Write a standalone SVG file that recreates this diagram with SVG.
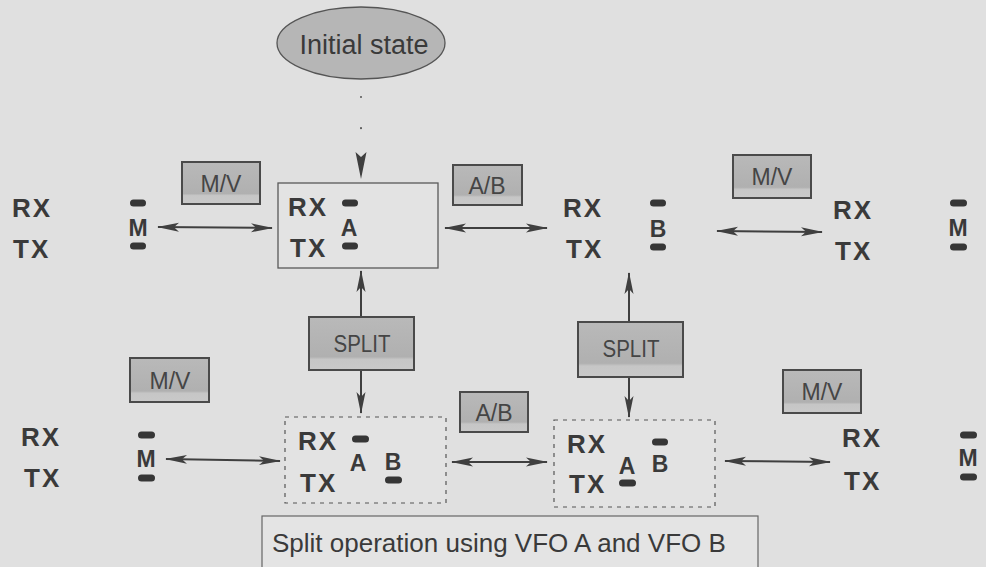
<svg xmlns="http://www.w3.org/2000/svg" width="986" height="567" viewBox="0 0 986 567">
<defs>
<linearGradient id="btn" x1="0" y1="0" x2="0" y2="1">
<stop offset="0" stop-color="#b9b9b9"/>
<stop offset="0.75" stop-color="#b0b0b0"/>
<stop offset="0.8" stop-color="#c6c6c6"/>
<stop offset="1" stop-color="#c9c9c9"/>
</linearGradient>
<marker id="ah" viewBox="0 0 22 10" refX="21" refY="5" markerWidth="22" markerHeight="10" markerUnits="userSpaceOnUse" orient="auto-start-reverse">
<path d="M0,0.5 L22,5 L0,9.5 L5,5 z" fill="#3f3f3f"/>
</marker>
</defs>
<style>
.bg{fill:#e0e0e0}
.lbl{font-family:"Liberation Sans",Arial,sans-serif;font-weight:bold;font-size:26px;letter-spacing:2px;fill:#3a3a3a}
.ltr{font-family:"Liberation Sans",Arial,sans-serif;font-weight:bold;font-size:23px;fill:#3a3a3a;text-anchor:middle}
.bar{fill:#363636}
.btn{fill:url(#btn);stroke:#4a4a4a;stroke-width:2}
.btxt{font-family:"Liberation Sans",Arial,sans-serif;font-size:23px;fill:#454545;text-anchor:middle}
.box{fill:#e3e3e3;stroke:#5a5a5a;stroke-width:1.3}
.dbox{fill:#e3e3e3;stroke:#555;stroke-width:1.2;stroke-dasharray:4 5}
.arr{stroke:#3f3f3f;stroke-width:2;fill:none}
</style>
<rect class="bg" x="0" y="0" width="986" height="567"/>

<g id="initial-state">
<ellipse cx="361" cy="43" rx="84" ry="36" fill="#b6b6b6" stroke="#555" stroke-width="1.3"/>
<text x="364" y="54" font-family="'Liberation Sans',Arial,sans-serif" font-size="27" fill="#3a3a3a" text-anchor="middle">Initial state</text>
</g>

<g id="connectors">
<line x1="361" y1="97" x2="361" y2="152" stroke="#555" stroke-width="2" stroke-linecap="round" stroke-dasharray="0.1 31"/>
<path d="M355.5,152 L361,157 L366.5,152 L361,179 z" fill="#3f3f3f"/>
<line class="arr" x1="158" y1="227" x2="272" y2="228" marker-start="url(#ah)" marker-end="url(#ah)"/>
<line class="arr" x1="445" y1="228" x2="547" y2="228" marker-start="url(#ah)" marker-end="url(#ah)"/>
<line class="arr" x1="717" y1="231" x2="822" y2="232" marker-start="url(#ah)" marker-end="url(#ah)"/>
<line class="arr" x1="361" y1="317" x2="361" y2="271" marker-end="url(#ah)"/>
<line class="arr" x1="361" y1="370" x2="361" y2="413" marker-end="url(#ah)"/>
<line class="arr" x1="629" y1="322" x2="629" y2="273" marker-end="url(#ah)"/>
<line class="arr" x1="629" y1="377" x2="629" y2="417" marker-end="url(#ah)"/>
<line class="arr" x1="166" y1="459" x2="280" y2="461" marker-start="url(#ah)" marker-end="url(#ah)"/>
<line class="arr" x1="452" y1="462" x2="547" y2="462" marker-start="url(#ah)" marker-end="url(#ah)"/>
<line class="arr" x1="725" y1="461" x2="830" y2="462" marker-start="url(#ah)" marker-end="url(#ah)"/>
</g>

<g id="mv-top-left"><rect class="btn" x="182" y="162" width="78" height="42"/><text class="btxt" x="221" y="192">M/V</text></g>
<g id="ab-top"><rect class="btn" x="453" y="165" width="69" height="40"/><text class="btxt" x="487" y="194">A/B</text></g>
<g id="mv-top-right"><rect class="btn" x="733" y="155" width="78" height="43"/><text class="btxt" x="772" y="185">M/V</text></g>
<g id="split-left"><rect class="btn" x="309" y="317" width="105" height="53"/><text class="btxt" x="362" y="352" textLength="57" lengthAdjust="spacingAndGlyphs">SPLIT</text></g>
<g id="split-right"><rect class="btn" x="578" y="322" width="105" height="55"/><text class="btxt" x="631" y="357" textLength="57" lengthAdjust="spacingAndGlyphs">SPLIT</text></g>
<g id="mv-bottom-left"><rect class="btn" x="130" y="358" width="79" height="44"/><text class="btxt" x="170" y="389">M/V</text></g>
<g id="ab-bottom"><rect class="btn" x="460" y="392" width="68" height="40"/><text class="btxt" x="494" y="421">A/B</text></g>
<g id="mv-bottom-right"><rect class="btn" x="783" y="370" width="78" height="43"/><text class="btxt" x="822" y="400">M/V</text></g>

<g id="state-left-top">
<text class="lbl" x="12" y="217">RX</text><text class="lbl" x="13" y="258">TX</text>
<rect class="bar" x="130" y="199.5" width="16" height="7" rx="3.5"/><rect class="bar" x="130" y="242.5" width="16" height="7" rx="3.5"/>
<text class="ltr" x="138" y="236">M</text>
</g>

<g id="state-a">
<rect class="box" x="278" y="183" width="160" height="85"/>
<text class="lbl" x="288" y="216">RX</text><text class="lbl" x="290" y="257">TX</text>
<rect class="bar" x="342" y="199.5" width="16" height="7" rx="3.5"/><rect class="bar" x="342" y="242.5" width="16" height="7" rx="3.5"/>
<text class="ltr" x="349" y="236">A</text>
</g>

<g id="state-b">
<text class="lbl" x="563" y="217">RX</text><text class="lbl" x="566" y="258">TX</text>
<rect class="bar" x="650" y="199.5" width="16" height="7" rx="3.5"/><rect class="bar" x="650" y="243.5" width="16" height="7" rx="3.5"/>
<text class="ltr" x="658" y="237">B</text>
</g>

<g id="state-right-top">
<text class="lbl" x="833" y="219">RX</text><text class="lbl" x="835" y="260">TX</text>
<rect class="bar" x="950" y="199.5" width="17" height="7" rx="3.5"/><rect class="bar" x="950" y="243.5" width="17" height="7" rx="3.5"/>
<text class="ltr" x="958" y="236">M</text>
</g>

<g id="state-left-bottom">
<text class="lbl" x="21" y="446">RX</text><text class="lbl" x="24" y="487">TX</text>
<rect class="bar" x="138" y="431.5" width="17" height="7" rx="3.5"/><rect class="bar" x="138" y="474.5" width="17" height="7" rx="3.5"/>
<text class="ltr" x="146" y="467">M</text>
</g>

<g id="split-ab">
<rect class="dbox" x="285" y="417" width="161" height="86"/>
<text class="lbl" x="298" y="450">RX</text><text class="lbl" x="300" y="492">TX</text>
<rect class="bar" x="352" y="435.5" width="17" height="7" rx="3.5"/>
<text class="ltr" x="358" y="471">A</text>
<text class="ltr" x="393" y="470">B</text>
<rect class="bar" x="385" y="476.5" width="17" height="7" rx="3.5"/>
</g>

<g id="split-ba">
<rect class="dbox" x="554" y="420" width="161" height="87"/>
<text class="lbl" x="567" y="453">RX</text><text class="lbl" x="569" y="493">TX</text>
<rect class="bar" x="652" y="438.5" width="16" height="7" rx="3.5"/>
<text class="ltr" x="627" y="474">A</text>
<text class="ltr" x="660" y="472">B</text>
<rect class="bar" x="619" y="479.5" width="17" height="7" rx="3.5"/>
</g>

<g id="state-right-bottom">
<text class="lbl" x="842" y="447">RX</text><text class="lbl" x="844" y="490">TX</text>
<rect class="bar" x="960" y="431.5" width="17" height="7" rx="3.5"/><rect class="bar" x="960" y="473.5" width="17" height="7" rx="3.5"/>
<text class="ltr" x="968" y="466">M</text>
</g>

<g id="caption">
<rect x="262" y="516" width="496" height="60" fill="#e4e4e4" stroke="#666" stroke-width="1.2"/>
<text x="272" y="552" font-family="'Liberation Sans',Arial,sans-serif" font-size="26" fill="#3a3a3a">Split operation using VFO A and VFO B</text>
</g>
</svg>
